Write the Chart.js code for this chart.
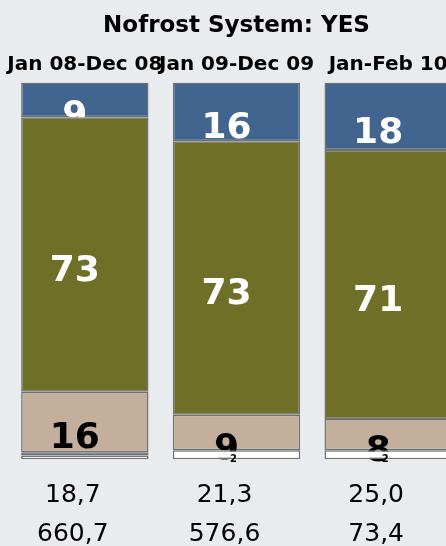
<!DOCTYPE html>
<html>
<head>
<meta charset="utf-8">
<script src="https://cdn.jsdelivr.net/npm/chart.js@4.4.1/dist/chart.umd.min.js"></script>
<style>
  html, body { margin: 0; padding: 0; background: #e9ecee; overflow: hidden; }
  #wrap { width: 472px; height: 570px; }
</style>
</head>
<body>
<div id="wrap"><canvas id="shareChart"></canvas></div>
<script>
const periods = ['Jan 08-Dec 08', 'Jan 09-Dec 09', 'Jan-Feb 10'];
const avgPrice = ['18,7', '21,3', '25,0'];
const volume = ['660,7', '576,6', '73,4'];

// share of each segment in %, listed bottom to top
const shareWhite = [1.0, 2.4, 2.4];
const shareSteel = [0.9, 0, 0];
const shareTan = [16.0, 9.4, 8.3];
const shareOlive = [72.9, 72.6, 71.4];
const shareBlue = [9.2, 15.6, 17.9];

const FONT = 'DejaVu Sans';

function segment(data, color, labelColor) {
  return {
    data: data,
    backgroundColor: color,
    borderColor: '#727272',
    borderWidth: 1.5,
    borderSkipped: false,
    barPercentage: 0.84,
    categoryPercentage: 1.0,
    labelColor: labelColor
  };
}

// value labels, drawn right after each dataset so the segment below covers any overflow
const segmentLabels = {
  id: 'segmentLabels',
  afterDatasetDraw(chart, args) {
    const ds = chart.data.datasets[args.index];
    const c = chart.ctx;
    args.meta.data.forEach((bar, i) => {
      const v = ds.data[i];
      if (Math.round(v) < 2) return;
      const small = v < 5;
      const size = small ? 10 : 36;
      const mid = (bar.y + bar.base) / 2;
      c.save();
      c.font = 'bold ' + size + 'px "' + FONT + '"';
      c.fillStyle = ds.labelColor;
      c.textAlign = 'center';
      c.textBaseline = 'alphabetic';
      c.fillText(String(Math.round(v)), bar.x - (small ? 3 : 10), mid + size * 0.73);
      c.restore();
    });
  }
};

const ctx = document.getElementById('shareChart').getContext('2d');
new Chart(ctx, {
  type: 'bar',
  data: {
    labels: periods,
    datasets: [
      segment(shareWhite, '#ffffff', '#000000'),
      segment(shareSteel, '#5d7487', '#000000'),
      segment(shareTan, '#c4ae9c', '#000000'),
      segment(shareOlive, '#6e7027', '#ffffff'),
      segment(shareBlue, '#41658e', '#ffffff')
    ]
  },
  options: {
    responsive: true,
    maintainAspectRatio: false,
    animation: false,
    layout: { padding: { left: 9, right: 8, top: 0, bottom: 0 } },
    plugins: {
      legend: { display: false },
      tooltip: { enabled: false },
      title: {
        display: true,
        text: 'Nofrost System: YES',
        color: '#000',
        font: { family: FONT, size: 23, weight: 'bold' },
        padding: { top: 12, bottom: 8 }
      }
    },
    scales: {
      x: {
        position: 'top',
        stacked: true,
        grid: { display: false, drawTicks: false },
        border: { display: false },
        ticks: {
          color: '#000',
          font: { family: FONT, size: 20, weight: 'bold' },
          padding: 5.5,
          maxRotation: 0,
          autoSkip: false
        }
      },
      xBottom: {
        type: 'category',
        position: 'bottom',
        labels: avgPrice.map((v, i) => [v, volume[i]]),
        grid: { display: false, drawTicks: false },
        border: { display: false },
        ticks: {
          color: '#000',
          font: { family: FONT, size: 25, lineHeight: 1.55 },
          labelOffset: -12,
          padding: 16.6,
          maxRotation: 0,
          autoSkip: false
        }
      },
      y: { stacked: true, min: 0, max: 100, display: false }
    }
  },
  plugins: [segmentLabels]
});
</script>
</body>
</html>
